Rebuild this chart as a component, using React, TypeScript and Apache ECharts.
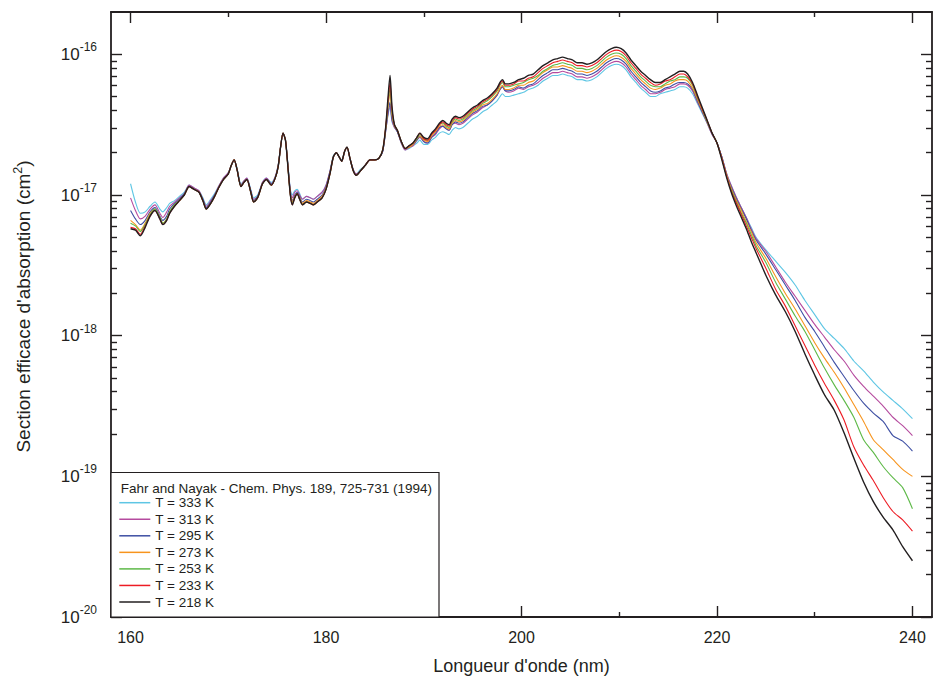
import React, { useEffect, useRef } from 'react';
import * as echarts from 'echarts';

// Wavelength grid (nm)
const WL = [
  160, 160.5, 161, 161.5, 162, 162.5, 163, 163.3, 163.7, 164, 164.5, 165, 165.5,
  166, 166.5, 167, 167.4, 167.75, 168.2, 168.6, 169, 169.5, 170,
  170.3, 170.6, 170.9, 171.3, 171.6, 171.9, 172.3, 172.6, 173, 173.5,
  173.9, 174.4, 174.8, 175.1, 175.35, 175.6, 175.85, 176.1, 176.35, 176.55,
  176.8, 177.05, 177.3, 177.6, 178, 178.4, 178.7, 179.1, 179.6, 180,
  180.4, 180.75, 181.05, 181.35, 181.6, 181.9, 182.15, 182.45, 182.8, 183.1,
  183.5, 184, 184.5, 185, 185.4, 185.8, 186.1, 186.35, 186.55, 186.75,
  187, 187.3, 187.7, 188.1,
  188.5, 188.9, 189.3, 189.6, 190, 190.4, 190.8, 191.2, 191.6, 191.95,
  192.3, 192.6, 192.9, 193.25, 193.6, 194, 194.5, 195, 195.5, 196,
  196.5, 197, 197.5, 197.8, 198.05, 198.35, 198.7, 199.2, 199.7,
  200.2, 200.7, 201.2, 201.7, 202.2, 202.7, 203.2, 203.7, 204.2, 204.7,
  205.2, 205.7, 206.2, 206.7, 207.2, 207.7, 208.2, 208.7, 209.2, 209.7,
  210.2, 210.7, 211.2, 211.7, 212.2, 212.7, 213.2, 213.7, 214.2, 214.7,
  215.2, 215.7, 216.2, 216.6, 217, 217.5, 218, 218.5, 219, 219.5, 220,
  220.5, 221, 221.5, 222, 222.5, 223, 223.5, 224,
  225, 226, 227, 228, 229, 230, 231, 232, 233, 234, 235, 236, 237, 238, 239, 240,
];

// log10 of the absorption cross-section (cm^2), one array per temperature
const LOG_SIGMA_333K = [
  -16.92, -17.05, -17.13, -17.12, -17.08, -17.05, -17.10, -17.12, -17.09, -17.06, -17.04, -17.01, -16.98,
  -16.93, -16.95, -16.97, -17.02, -17.07, -17.03, -16.99, -16.94, -16.88, -16.84,
  -16.79, -16.75, -16.81, -16.92, -16.90, -16.88, -16.96, -17.02, -17.00, -16.91,
  -16.88, -16.91, -16.87, -16.79, -16.66, -16.56, -16.61, -16.78, -16.96, -17.00,
  -16.97, -16.96, -16.99, -17.03, -17.01, -17.02, -17.03, -17.01, -16.98, -16.93,
  -16.83, -16.72, -16.70, -16.73, -16.75, -16.69, -16.66, -16.74, -16.82, -16.85,
  -16.82, -16.79, -16.75, -16.75, -16.74, -16.69, -16.55, -16.43, -16.38, -16.48,
  -16.52, -16.55, -16.63, -16.68,
  -16.67, -16.65, -16.63, -16.61, -16.64, -16.64, -16.61, -16.59, -16.56, -16.55,
  -16.56, -16.57, -16.54, -16.52, -16.53, -16.52, -16.49, -16.46, -16.44, -16.41,
  -16.39, -16.36, -16.33, -16.30, -16.28, -16.30, -16.30, -16.29, -16.28,
  -16.27, -16.25, -16.24, -16.22, -16.19, -16.17, -16.15, -16.15, -16.14, -16.15,
  -16.16, -16.18, -16.18, -16.19, -16.18, -16.16, -16.13, -16.10, -16.08, -16.07,
  -16.08, -16.11, -16.16, -16.20, -16.24, -16.27, -16.30, -16.30, -16.28, -16.27,
  -16.26, -16.25, -16.23, -16.23, -16.24, -16.28, -16.35, -16.42, -16.49, -16.57, -16.63,
  -16.73, -16.85, -16.94, -17.02, -17.09, -17.16, -17.23, -17.30,
  -17.39, -17.47, -17.55, -17.64, -17.75, -17.85, -17.95, -18.02, -18.09, -18.18, -18.25, -18.33, -18.40, -18.46, -18.52, -18.59,
];

const LOG_SIGMA_313K = [
  -17.02, -17.11, -17.17, -17.15, -17.10, -17.07, -17.13, -17.16, -17.12, -17.08, -17.05, -17.02, -16.99,
  -16.93, -16.95, -16.97, -17.03, -17.08, -17.04, -17.00, -16.94, -16.88, -16.84,
  -16.79, -16.75, -16.82, -16.93, -16.90, -16.88, -16.97, -17.03, -17.01, -16.91,
  -16.88, -16.92, -16.87, -16.79, -16.66, -16.56, -16.61, -16.79, -16.97, -17.02,
  -16.98, -16.97, -17.00, -17.03, -17.01, -17.02, -17.03, -17.01, -16.98, -16.93,
  -16.83, -16.73, -16.70, -16.73, -16.76, -16.69, -16.66, -16.74, -16.82, -16.85,
  -16.83, -16.79, -16.75, -16.75, -16.74, -16.69, -16.55, -16.42, -16.36, -16.47,
  -16.52, -16.55, -16.63, -16.68,
  -16.66, -16.65, -16.61, -16.59, -16.62, -16.63, -16.59, -16.57, -16.53, -16.51,
  -16.53, -16.54, -16.50, -16.49, -16.50, -16.49, -16.46, -16.43, -16.41, -16.38,
  -16.36, -16.33, -16.29, -16.25, -16.23, -16.26, -16.27, -16.26, -16.24,
  -16.25, -16.23, -16.22, -16.20, -16.17, -16.15, -16.13, -16.13, -16.12, -16.13,
  -16.14, -16.16, -16.16, -16.17, -16.16, -16.14, -16.11, -16.08, -16.06, -16.05,
  -16.06, -16.09, -16.14, -16.18, -16.22, -16.25, -16.28, -16.28, -16.27, -16.25,
  -16.24, -16.23, -16.21, -16.21, -16.22, -16.26, -16.34, -16.41, -16.49, -16.57, -16.63,
  -16.73, -16.85, -16.94, -17.02, -17.09, -17.16, -17.24, -17.31,
  -17.40, -17.51, -17.62, -17.72, -17.82, -17.92, -18.01, -18.10, -18.18, -18.28, -18.36, -18.43, -18.50, -18.58, -18.64, -18.71,
];

const LOG_SIGMA_295K = [
  -17.11, -17.17, -17.21, -17.18, -17.12, -17.09, -17.15, -17.18, -17.15, -17.10, -17.06, -17.03, -16.99,
  -16.94, -16.96, -16.98, -17.03, -17.09, -17.05, -17.00, -16.95, -16.89, -16.85,
  -16.79, -16.75, -16.82, -16.93, -16.91, -16.89, -16.97, -17.04, -17.01, -16.92,
  -16.89, -16.92, -16.88, -16.80, -16.66, -16.56, -16.61, -16.79, -16.98, -17.04,
  -17.00, -16.98, -17.01, -17.05, -17.03, -17.04, -17.05, -17.03, -17.00, -16.94,
  -16.84, -16.73, -16.70, -16.73, -16.76, -16.69, -16.66, -16.74, -16.83, -16.86,
  -16.83, -16.79, -16.75, -16.75, -16.74, -16.69, -16.54, -16.41, -16.34, -16.46,
  -16.51, -16.55, -16.62, -16.67,
  -16.66, -16.64, -16.61, -16.58, -16.62, -16.63, -16.59, -16.56, -16.52, -16.51,
  -16.53, -16.54, -16.50, -16.48, -16.49, -16.48, -16.45, -16.42, -16.40, -16.37,
  -16.36, -16.33, -16.29, -16.25, -16.23, -16.26, -16.26, -16.25, -16.23,
  -16.24, -16.22, -16.21, -16.18, -16.15, -16.13, -16.11, -16.11, -16.10, -16.11,
  -16.12, -16.14, -16.14, -16.15, -16.14, -16.12, -16.09, -16.06, -16.04, -16.03,
  -16.04, -16.07, -16.12, -16.16, -16.20, -16.23, -16.26, -16.27, -16.26, -16.24,
  -16.23, -16.21, -16.20, -16.20, -16.21, -16.25, -16.33, -16.41, -16.48, -16.56, -16.63,
  -16.73, -16.86, -16.95, -17.03, -17.10, -17.17, -17.25, -17.32,
  -17.42, -17.53, -17.64, -17.75, -17.87, -17.97, -18.08, -18.19, -18.29, -18.39, -18.48, -18.55, -18.61, -18.71, -18.75, -18.82,
];

const LOG_SIGMA_273K = [
  -17.18, -17.21, -17.25, -17.20, -17.13, -17.10, -17.16, -17.20, -17.17, -17.12, -17.07, -17.04, -17.00,
  -16.94, -16.96, -16.98, -17.04, -17.10, -17.06, -17.01, -16.95, -16.89, -16.85,
  -16.79, -16.75, -16.82, -16.94, -16.91, -16.89, -16.98, -17.05, -17.02, -16.92,
  -16.89, -16.93, -16.88, -16.80, -16.66, -16.56, -16.61, -16.80, -16.99, -17.05,
  -17.01, -16.99, -17.02, -17.06, -17.04, -17.05, -17.06, -17.04, -17.01, -16.95,
  -16.85, -16.73, -16.70, -16.73, -16.76, -16.69, -16.66, -16.74, -16.83, -16.86,
  -16.83, -16.79, -16.75, -16.75, -16.74, -16.68, -16.53, -16.37, -16.27, -16.43,
  -16.51, -16.54, -16.62, -16.67,
  -16.66, -16.64, -16.60, -16.58, -16.61, -16.62, -16.58, -16.55, -16.51, -16.50,
  -16.52, -16.53, -16.49, -16.47, -16.48, -16.47, -16.44, -16.41, -16.39, -16.36,
  -16.35, -16.32, -16.28, -16.24, -16.22, -16.25, -16.25, -16.24, -16.22,
  -16.22, -16.20, -16.19, -16.16, -16.13, -16.11, -16.09, -16.09, -16.08, -16.09,
  -16.10, -16.12, -16.12, -16.13, -16.12, -16.10, -16.07, -16.04, -16.02, -16.01,
  -16.02, -16.05, -16.10, -16.14, -16.18, -16.21, -16.24, -16.25, -16.24, -16.22,
  -16.21, -16.19, -16.18, -16.18, -16.19, -16.24, -16.32, -16.40, -16.48, -16.56, -16.63,
  -16.74, -16.86, -16.96, -17.04, -17.11, -17.19, -17.26, -17.34,
  -17.45, -17.58, -17.70, -17.81, -17.93, -18.05, -18.16, -18.26, -18.37, -18.49, -18.61, -18.74, -18.81, -18.88, -18.95, -19.00,
];

const LOG_SIGMA_253K = [
  -17.20, -17.22, -17.26, -17.21, -17.14, -17.10, -17.16, -17.20, -17.17, -17.12, -17.07, -17.04, -17.00,
  -16.94, -16.96, -16.98, -17.04, -17.10, -17.06, -17.01, -16.95, -16.89, -16.85,
  -16.79, -16.75, -16.82, -16.94, -16.91, -16.89, -16.98, -17.05, -17.02, -16.92,
  -16.89, -16.93, -16.88, -16.80, -16.66, -16.56, -16.61, -16.80, -17.00, -17.06,
  -17.02, -16.99, -17.03, -17.07, -17.05, -17.06, -17.07, -17.05, -17.02, -16.96,
  -16.85, -16.73, -16.70, -16.73, -16.76, -16.69, -16.66, -16.74, -16.83, -16.86,
  -16.83, -16.79, -16.75, -16.75, -16.74, -16.68, -16.53, -16.35, -16.24, -16.41,
  -16.50, -16.54, -16.62, -16.67,
  -16.65, -16.63, -16.60, -16.57, -16.60, -16.61, -16.57, -16.54, -16.50, -16.49,
  -16.51, -16.52, -16.48, -16.46, -16.47, -16.46, -16.43, -16.40, -16.38, -16.35,
  -16.33, -16.30, -16.26, -16.22, -16.20, -16.23, -16.23, -16.22, -16.21,
  -16.20, -16.18, -16.17, -16.15, -16.12, -16.10, -16.08, -16.07, -16.06, -16.07,
  -16.08, -16.10, -16.10, -16.11, -16.10, -16.08, -16.05, -16.02, -16.00, -15.99,
  -16.00, -16.03, -16.08, -16.12, -16.16, -16.19, -16.22, -16.23, -16.23, -16.21,
  -16.19, -16.18, -16.16, -16.16, -16.17, -16.22, -16.31, -16.39, -16.48, -16.56, -16.63,
  -16.74, -16.87, -16.97, -17.05, -17.13, -17.20, -17.28, -17.36,
  -17.48, -17.62, -17.74, -17.86, -17.97, -18.10, -18.23, -18.35, -18.46, -18.58, -18.74, -18.83, -18.93, -19.01, -19.08, -19.23,
];

const LOG_SIGMA_233K = [
  -17.23, -17.24, -17.28, -17.22, -17.15, -17.11, -17.17, -17.21, -17.18, -17.13, -17.08, -17.04, -17.00,
  -16.94, -16.96, -16.98, -17.04, -17.10, -17.06, -17.01, -16.95, -16.89, -16.85,
  -16.79, -16.75, -16.82, -16.94, -16.91, -16.89, -16.98, -17.05, -17.02, -16.92,
  -16.89, -16.93, -16.88, -16.80, -16.66, -16.56, -16.61, -16.80, -17.00, -17.07,
  -17.02, -16.99, -17.03, -17.07, -17.05, -17.06, -17.07, -17.05, -17.02, -16.96,
  -16.85, -16.73, -16.70, -16.73, -16.76, -16.69, -16.66, -16.74, -16.83, -16.86,
  -16.83, -16.79, -16.75, -16.75, -16.74, -16.68, -16.52, -16.33, -16.20, -16.39,
  -16.50, -16.54, -16.62, -16.67,
  -16.65, -16.63, -16.59, -16.56, -16.60, -16.61, -16.57, -16.54, -16.50, -16.48,
  -16.50, -16.51, -16.47, -16.45, -16.46, -16.45, -16.42, -16.39, -16.37, -16.34,
  -16.32, -16.29, -16.25, -16.21, -16.19, -16.22, -16.22, -16.21, -16.19,
  -16.19, -16.17, -16.16, -16.13, -16.10, -16.08, -16.06, -16.05, -16.04, -16.05,
  -16.06, -16.08, -16.08, -16.09, -16.08, -16.06, -16.03, -16.00, -15.98, -15.97,
  -15.98, -16.01, -16.06, -16.10, -16.14, -16.17, -16.20, -16.22, -16.21, -16.19,
  -16.18, -16.16, -16.14, -16.14, -16.16, -16.21, -16.30, -16.39, -16.47, -16.56, -16.63,
  -16.74, -16.87, -16.98, -17.06, -17.14, -17.22, -17.30, -17.38,
  -17.52, -17.67, -17.79, -17.93, -18.07, -18.21, -18.34, -18.46, -18.60, -18.79, -18.92, -19.03, -19.15, -19.25, -19.31, -19.39,
];

const LOG_SIGMA_218K = [
  -17.24, -17.25, -17.29, -17.23, -17.15, -17.11, -17.17, -17.21, -17.18, -17.13, -17.08, -17.04, -17.00,
  -16.94, -16.96, -16.98, -17.04, -17.10, -17.06, -17.01, -16.95, -16.89, -16.85,
  -16.79, -16.75, -16.82, -16.94, -16.91, -16.89, -16.98, -17.05, -17.02, -16.92,
  -16.89, -16.93, -16.88, -16.80, -16.66, -16.56, -16.61, -16.80, -17.00, -17.07,
  -17.02, -16.99, -17.03, -17.07, -17.05, -17.06, -17.07, -17.05, -17.02, -16.96,
  -16.85, -16.73, -16.70, -16.73, -16.76, -16.69, -16.66, -16.74, -16.83, -16.86,
  -16.83, -16.79, -16.75, -16.75, -16.74, -16.68, -16.52, -16.30, -16.15, -16.37,
  -16.50, -16.54, -16.62, -16.67,
  -16.65, -16.63, -16.59, -16.56, -16.59, -16.60, -16.56, -16.53, -16.49, -16.47,
  -16.49, -16.50, -16.46, -16.44, -16.45, -16.44, -16.41, -16.38, -16.36, -16.33,
  -16.31, -16.28, -16.24, -16.20, -16.18, -16.21, -16.21, -16.20, -16.18,
  -16.17, -16.15, -16.14, -16.11, -16.08, -16.06, -16.04, -16.03, -16.02, -16.03,
  -16.04, -16.06, -16.06, -16.07, -16.06, -16.04, -16.01, -15.98, -15.96, -15.95,
  -15.96, -15.99, -16.04, -16.08, -16.12, -16.15, -16.18, -16.20, -16.20, -16.18,
  -16.16, -16.14, -16.12, -16.12, -16.14, -16.20, -16.29, -16.38, -16.47, -16.56, -16.63,
  -16.75, -16.88, -16.99, -17.08, -17.16, -17.24, -17.33, -17.41,
  -17.57, -17.71, -17.83, -17.97, -18.13, -18.28, -18.42, -18.53, -18.69, -18.87, -19.04, -19.18, -19.29, -19.38, -19.50, -19.60,
];

const SERIES_NAMES = ['T = 333 K', 'T = 313 K', 'T = 295 K', 'T = 273 K', 'T = 253 K', 'T = 233 K', 'T = 218 K'];
const SERIES_VALUES = [LOG_SIGMA_333K, LOG_SIGMA_313K, LOG_SIGMA_295K, LOG_SIGMA_273K, LOG_SIGMA_253K, LOG_SIGMA_233K, LOG_SIGMA_218K];
const COLORS = ['#5ec6e4', '#b54a9e', '#3e4fa3', '#f7941d', '#5db947', '#ed1c24', '#231f20'];

const X_MIN = 158;
const X_MAX = 242;
const X_MAJOR = [160, 180, 200, 220, 240];
const X_MINOR = [170, 190, 210, 230];
const Y_MIN = -20; // 1e-20 cm^2
const Y_MAX = Math.log10(2e-16);
const Y_DECADES = [-20, -19, -18, -17, -16];

const LEGEND_TITLE = 'Fahr and Nayak - Chem. Phys. 189, 725-731 (1994)';
const X_NAME = "Longueur d'onde (nm)";
const Y_NAME = "Section efficace d'absorption (cm";

const FONT = '"Liberation Sans", Arial, Helvetica, sans-serif';
const INK = '#231f20';

export default function App() {
  const ref = useRef<HTMLDivElement>(null);

  useEffect(() => {
    if (!ref.current) return;
    const chart = echarts.init(ref.current, null, { renderer: 'svg' });

    const yMinor: number[] = [];
    for (let n = -20; n <= -16; n++) {
      for (let k = 2; k <= 9; k++) {
        const v = n + Math.log10(k);
        if (v < Y_MAX - 1e-6) yMinor.push(v);
      }
    }

    const axisLineStyle = { color: INK, width: 1.8 };
    const tickStyle = { color: INK, width: 1.4 };

    const xAxisBase = {
      type: 'value',
      min: X_MIN,
      max: X_MAX,
      gridIndex: 0,
      splitLine: { show: false },
    };
    const yAxisBase = {
      type: 'value',
      min: Y_MIN,
      max: Y_MAX,
      gridIndex: 0,
      splitLine: { show: false },
    };

    const xAxis = [
      {
        ...xAxisBase,
        position: 'bottom',
        axisLine: { show: true, onZero: false, lineStyle: axisLineStyle },
        axisTick: { show: true, inside: true, length: 11, lineStyle: tickStyle, customValues: X_MAJOR },
        axisLabel: {
          show: true,
          customValues: X_MAJOR,
          margin: 12,
          fontSize: 16,
          fontFamily: FONT,
          color: INK,
        },
        name: X_NAME,
        nameLocation: 'middle',
        nameGap: 40,
        nameTextStyle: { fontSize: 18, fontFamily: FONT, color: INK },
      },
      {
        ...xAxisBase,
        position: 'bottom',
        axisLine: { show: false, onZero: false },
        axisTick: { show: true, inside: true, length: 5, lineStyle: tickStyle, customValues: X_MINOR },
        axisLabel: { show: false },
      },
      {
        ...xAxisBase,
        position: 'top',
        axisLine: { show: true, onZero: false, lineStyle: axisLineStyle },
        axisTick: { show: true, inside: true, length: 11, lineStyle: tickStyle, customValues: X_MAJOR },
        axisLabel: { show: false },
      },
      {
        ...xAxisBase,
        position: 'top',
        axisLine: { show: false, onZero: false },
        axisTick: { show: true, inside: true, length: 5, lineStyle: tickStyle, customValues: X_MINOR },
        axisLabel: { show: false },
      },
    ];

    const yAxis = [
      {
        ...yAxisBase,
        position: 'left',
        axisLine: { show: true, onZero: false, lineStyle: axisLineStyle },
        axisTick: { show: true, inside: true, length: 11, lineStyle: tickStyle, customValues: Y_DECADES },
        axisLabel: {
          show: true,
          customValues: Y_DECADES,
          margin: 14,
          formatter: (v: number) => `{b|10}{s|${Math.round(v)}}`,
          rich: {
            b: { fontSize: 17, lineHeight: 26, fontFamily: FONT, color: INK },
            s: { fontSize: 12, lineHeight: 12, verticalAlign: 'top', fontFamily: FONT, color: INK },
          },
        },
        name: `{n|${Y_NAME}}{s|2}{n|)}`,
        nameLocation: 'middle',
        nameGap: 76,
        nameTextStyle: {
          fontFamily: FONT,
          color: INK,
          padding: [0, 0, 0, 16],
          rich: {
            n: { fontSize: 19, lineHeight: 24, fontFamily: FONT, color: INK },
            s: { fontSize: 12.5, lineHeight: 12, verticalAlign: 'top', fontFamily: FONT, color: INK },
          },
        },
      },
      {
        ...yAxisBase,
        position: 'left',
        axisLine: { show: false, onZero: false },
        axisTick: { show: true, inside: true, length: 6, lineStyle: tickStyle, customValues: yMinor },
        axisLabel: { show: false },
      },
      {
        ...yAxisBase,
        position: 'right',
        axisLine: { show: true, onZero: false, lineStyle: axisLineStyle },
        axisTick: { show: true, inside: true, length: 11, lineStyle: tickStyle, customValues: Y_DECADES },
        axisLabel: { show: false },
      },
      {
        ...yAxisBase,
        position: 'right',
        axisLine: { show: false, onZero: false },
        axisTick: { show: true, inside: true, length: 6, lineStyle: tickStyle, customValues: yMinor },
        axisLabel: { show: false },
      },
    ];

    const series = SERIES_NAMES.map((name, si) => ({
      name,
      type: 'line',
      xAxisIndex: 0,
      yAxisIndex: 0,
      data: WL.map((w, i) => [w, SERIES_VALUES[si][i]]),
      showSymbol: false,
      symbol: 'none',
      smooth: 0.25,
      lineStyle: { width: si === 6 ? 1.4 : 1.1, color: COLORS[si] },
      itemStyle: { color: COLORS[si] },
      z: 2 + si,
    }));

    chart.setOption({
      animation: false,
      backgroundColor: '#ffffff',
      color: COLORS,
      textStyle: { fontFamily: FONT },
      grid: { left: 111, right: 4, top: 12, bottom: 67, containLabel: false },
      xAxis,
      yAxis,
      legend: {
        show: true,
        orient: 'vertical',
        left: 114.3,
        top: 490.7,
        padding: 5,
        itemWidth: 31,
        itemHeight: 1.5,
        itemGap: 2.55,
        icon: 'rect',
        data: SERIES_NAMES,
        textStyle: { fontSize: 13.5, lineHeight: 14, color: INK, fontFamily: FONT },
        selectedMode: false,
        z: 10,
      },
      graphic: [
        {
          type: 'rect',
          z: 8,
          shape: { x: 111, y: 472.5, width: 328, height: 144.5 },
          style: { fill: '#ffffff', stroke: INK, lineWidth: 1.2 },
        },
        {
          type: 'text',
          z: 9,
          x: 120.7,
          y: 488,
          style: {
            text: LEGEND_TITLE,
            fontSize: 13.5,
            fontFamily: FONT,
            fill: INK,
            verticalAlign: 'middle',
            align: 'left',
          },
        },
      ],
      series,
    });

    return () => chart.dispose();
  }, []);

  return (
    <div
      ref={ref}
      style={{ position: 'absolute', left: 0, top: 0, width: 936, height: 684, background: '#ffffff' }}
    />
  );
}
